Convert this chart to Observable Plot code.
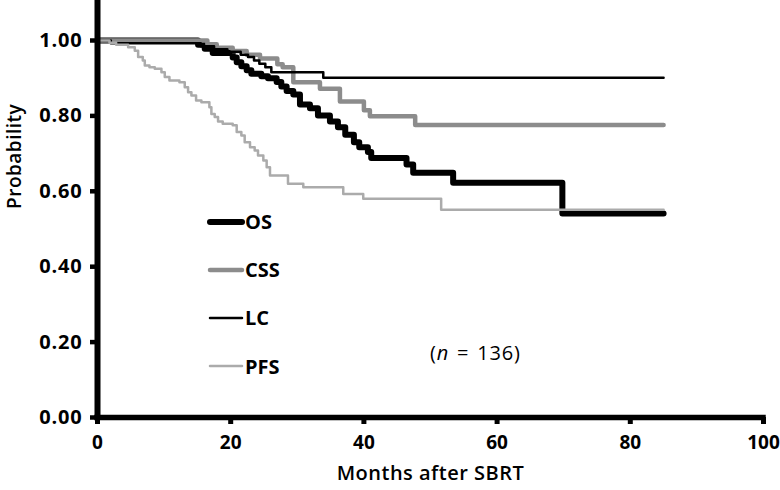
<!DOCTYPE html>
<html>
<head>
<meta charset="utf-8">
<script src="https://cdn.jsdelivr.net/npm/d3@7"></script>
<script src="https://cdn.jsdelivr.net/npm/@observablehq/plot@0.6"></script>
<style>
  html, body { margin: 0; padding: 0; background: #fff; }
  #wrap { position: relative; width: 780px; height: 490px; font-family: "Open Sans", Lato, sans-serif; }
  #wrap g[aria-label="y-axis tick label"] text { letter-spacing: 0.8px; }
  #wrap g[aria-label="text"] text { letter-spacing: 0.5px; }
  .leg { position: absolute; display: flex; align-items: center; font-weight: 700; font-size: 20px; color: #000; }
  .leg svg { margin-right: 0; }
  #ntext { position: absolute; font-size: 20px; color: #000; letter-spacing: 0.8px; word-spacing: 2px; }
</style>
</head>
<body>
<div id="wrap"></div>
<script>
// ---- data (months after SBRT, probability) ----
const osMonths  = [0, 15.1, 16.1, 17.3, 20.3, 20.9, 21.6, 22.4, 23.1, 24.6, 25.6, 26.9, 27.6, 28.4, 29.4, 30.4, 31.9, 33.1, 34.9, 36.1, 37.2, 38.5, 39.3, 40.6, 41.1, 46.4, 47.4, 53.4, 69.8, 85];
const osProb    = [1, 0.989, 0.978, 0.967, 0.955, 0.942, 0.932, 0.921, 0.912, 0.905, 0.900, 0.890, 0.878, 0.866, 0.857, 0.830, 0.820, 0.801, 0.785, 0.770, 0.750, 0.730, 0.717, 0.704, 0.688, 0.671, 0.649, 0.623, 0.541, 0.541];

const cssMonths = [0, 16.5, 17.9, 20.3, 22.4, 24.4, 27.0, 27.8, 29.4, 33.4, 36.4, 40.0, 40.9, 47.7, 85];
const cssProb   = [1, 0.990, 0.981, 0.972, 0.962, 0.952, 0.937, 0.929, 0.889, 0.872, 0.838, 0.815, 0.799, 0.776, 0.776];

const lcMonths  = [0, 2, 15.5, 17.5, 19.5, 21.5, 22.6, 23.5, 24.3, 25.2, 26.1, 33.9, 85];
const lcProb    = [1, 0.993, 0.985, 0.977, 0.970, 0.962, 0.956, 0.947, 0.938, 0.929, 0.916, 0.901, 0.901];

const pfsMonths = [0, 1.8, 2.8, 4.6, 5.6, 6.1, 6.8, 7.1, 7.8, 8.6, 9.6, 10.1, 10.8, 12.3, 13.1, 13.6, 14.1, 14.8, 15.6, 16.8, 17.1, 17.6, 18.1, 18.8, 20.3, 20.9, 21.6, 22.1, 22.9, 23.6, 24.1, 24.9, 25.4, 25.9, 28.6, 30.9, 36.9, 39.9, 51.6, 85];
const pfsProb   = [1, 0.994, 0.989, 0.982, 0.973, 0.956, 0.947, 0.934, 0.929, 0.925, 0.916, 0.903, 0.894, 0.889, 0.876, 0.863, 0.854, 0.841, 0.836, 0.823, 0.805, 0.797, 0.785, 0.779, 0.775, 0.757, 0.748, 0.730, 0.717, 0.708, 0.695, 0.682, 0.664, 0.642, 0.620, 0.611, 0.593, 0.580, 0.551, 0.551];

const seriesNames = ["OS", "CSS", "LC", "PFS"];
const xTicks = [0, 20, 40, 60, 80, 100];
const yTicks = [0, 0.2, 0.4, 0.6, 0.8, 1.0];
const sampleSize = 136;

// ---- styles ----
const styles = {
  OS:  {stroke: "#000000", width: 6},
  CSS: {stroke: "#8c8c8c", width: 4.5},
  LC:  {stroke: "#000000", width: 2.5},
  PFS: {stroke: "#ababab", width: 2.5}
};

const toRows = (m, p) => m.map((t, i) => ({t, p: p[i]}));
const series = {
  OS: toRows(osMonths, osProb),
  CSS: toRows(cssMonths, cssProb),
  LC: toRows(lcMonths, lcProb),
  PFS: toRows(pfsMonths, pfsProb)
};

const W = 780, H = 490;
const mL = 97, mR = 17, mT = 0, mB = 73;
const yMax = (H - mB - mT) / 377; // 1.00 sits ~40px below the top

const plot = Plot.plot({
  width: W, height: H,
  marginLeft: mL, marginRight: mR, marginTop: mT, marginBottom: mB,
  style: {fontFamily: "'Open Sans', Lato, sans-serif", fontSize: "20px", color: "#000", background: "#fff"},
  x: {domain: [0, 100], ticks: xTicks},
  y: {domain: [0, yMax], ticks: yTicks},
  marks: [
    ...seriesNames.map(name => Plot.line(series[name], {
      x: "t", y: "p", curve: "step-after",
      stroke: styles[name].stroke, strokeWidth: styles[name].width,
      strokeLinejoin: "round", strokeLinecap: "round"
    })),
    Plot.axisX({ticks: xTicks, tickSize: 7, tickPadding: 11, strokeWidth: 5, fontWeight: 700, fontSize: 19, label: null, tickFormat: d3.format("d")}),
    Plot.axisY({ticks: yTicks, tickSize: 7, tickPadding: 8, strokeWidth: 4.5, fontWeight: 700, label: null, tickFormat: d3.format(".2f")}),
    Plot.ruleY([0], {stroke: "#000", strokeWidth: 5.5, strokeLinecap: "square"}),
    Plot.ruleX([0], {stroke: "#000", strokeWidth: 6, y1: 0, y2: yMax + 0.02}),
    Plot.text(["Months after SBRT"], {frameAnchor: "bottom", dy: 62, fontWeight: 600, fontSize: 20}),
    Plot.text(["Probability"], {frameAnchor: "left", dx: -83, rotate: -90, fontWeight: 600, fontSize: 19})
  ]
});

const wrap = document.getElementById("wrap");
wrap.appendChild(plot);

// legend overlay
const legTop = 221.7, legGap = 48.1, legLeft = 207;
seriesNames.forEach((name, i) => {
  const d = document.createElement("div");
  d.className = "leg";
  const s = styles[name];
  d.style.left = legLeft + "px";
  d.style.top = (legTop + i * legGap - 14) + "px";
  d.style.height = "28px";
  d.innerHTML = `<svg width="38" height="12"><line x1="3" y1="6" x2="35" y2="6" stroke="${s.stroke}" stroke-width="${s.width}" stroke-linecap="round"/></svg><span>${name}</span>`;
  wrap.appendChild(d);
});

const n = document.createElement("div");
n.id = "ntext";
n.style.left = "430px";
n.style.top = "339px";
n.innerHTML = `(<i>n</i> = ${sampleSize})`;
wrap.appendChild(n);
</script>
</body>
</html>
